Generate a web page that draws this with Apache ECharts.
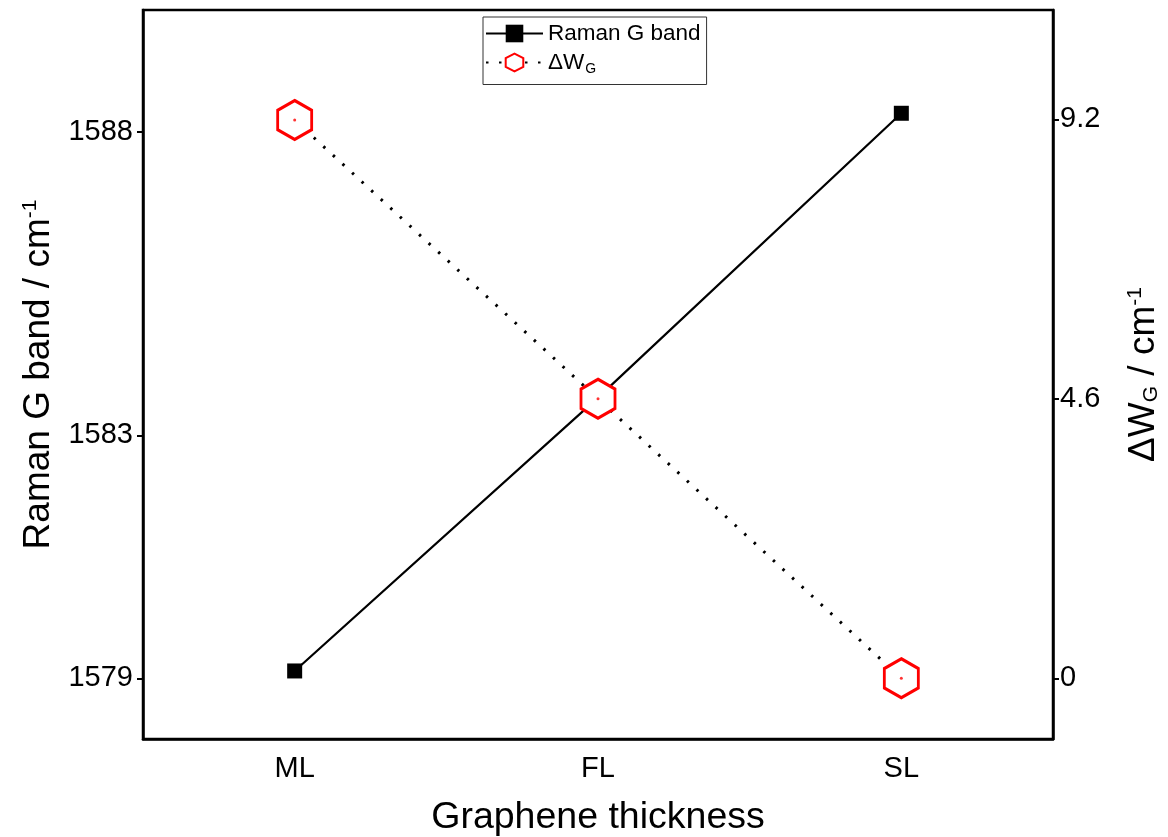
<!DOCTYPE html>
<html>
<head>
<meta charset="utf-8">
<script src="https://cdn.jsdelivr.net/npm/echarts@6/dist/echarts.min.js"></script>
<style>html,body{margin:0;padding:0;background:#fff;}#c{width:1168px;height:837px;}</style>
</head>
<body>
<div id="c"></div>
<script>
const categories = ['ML', 'FL', 'SL'];
const ramanG = [1579.12, 1583.62, 1588.3];
const deltaW = [9.19, 4.6, 0];
const leftTicks = [1579, 1583, 1588];
const rightTicks = [0, 4.6, 9.2];

const FONT = '"Liberation Sans", Arial, sans-serif';
const hexPath = 'path://M0,-1 L0.866,-0.5 L0.866,0.5 L0,1 L-0.866,0.5 L-0.866,-0.5 Z';

const chart = echarts.init(document.getElementById('c'));
chart.setOption({
  animation: false,
  backgroundColor: '#fff',
  textStyle: { fontFamily: FONT },
  grid: { left: 143, right: 115, top: 10, bottom: 98, outerBoundsMode: 'none', containLabel: false,
    show: true, borderColor: '#000', borderWidth: 2.5, backgroundColor: 'transparent' },
  legend: {
    left: 483, top: 17,
    orient: 'vertical',
    itemWidth: 57, itemHeight: 22, itemGap: 6,
    padding: [5, 6, 8, 2],
    borderColor: '#333', borderWidth: 1, borderRadius: 0,
    data: ['Raman G band', 'ΔW_G'],
    formatter: function (n) { return n === 'ΔW_G' ? '{a|ΔW}{s|G}' : '{a|' + n + '}'; },
    textStyle: {
      fontFamily: FONT, color: '#000',
      rich: {
        a: { fontSize: 22.5, fontFamily: FONT, color: '#000' },
        s: { fontSize: 14, fontFamily: FONT, color: '#000', verticalAlign: 'bottom', padding: [14, 0, 0, 1] }
      }
    }
  },
  xAxis: {
    type: 'category',
    data: categories,
    boundaryGap: true,
    name: 'Graphene thickness',
    nameLocation: 'middle',
    nameGap: 60,
    nameTextStyle: { fontSize: 37.5, color: '#000', fontFamily: FONT },
    axisLine: { onZero: false, lineStyle: { color: '#000', width: 2.5 } },
    axisTick: { alignWithLabel: true, length: 6, lineStyle: { color: '#000', width: 2 } },
    axisLabel: { fontSize: 29, color: '#000', margin: 15, fontFamily: FONT },
    splitLine: { show: false }
  },
  yAxis: [
    {
      type: 'value', min: 1578, max: 1590, position: 'left',
      name: '{a|Raman G band / cm}{s|-1}',
      nameLocation: 'middle', nameGap: 86, nameRotate: 90,
      nameTextStyle: {
        color: '#000', fontFamily: FONT,
        rich: {
          a: { fontSize: 37, fontFamily: FONT, color: '#000' },
          s: { fontSize: 21, fontFamily: FONT, color: '#000', verticalAlign: 'top', padding: [0, 0, 16, 0] }
        }
      },
      axisLine: { show: true, lineStyle: { color: '#000', width: 2.5 } },
      axisTick: { show: true, length: 6, customValues: leftTicks, lineStyle: { color: '#000', width: 2 } },
      axisLabel: { fontSize: 29, color: '#000', margin: 10, customValues: leftTicks, fontFamily: FONT,
        formatter: function (v) { return String(v); } },
      splitLine: { show: false }
    },
    {
      type: 'value', min: -1, max: 11, position: 'right',
      name: '{a|ΔW}{s|G}{a| / cm}{p|-1}',
      nameLocation: 'middle', nameGap: 72, nameRotate: 90,
      nameTextStyle: {
        color: '#000', fontFamily: FONT,
        rich: {
          a: { fontSize: 37, fontFamily: FONT, color: '#000' },
          s: { fontSize: 21, fontFamily: FONT, color: '#000', verticalAlign: 'bottom', padding: [16, 0, 0, 0] },
          p: { fontSize: 21, fontFamily: FONT, color: '#000', verticalAlign: 'top', padding: [0, 0, 16, 0] }
        }
      },
      axisLine: { show: true, lineStyle: { color: '#000', width: 2.5 } },
      axisTick: { show: true, length: 6, customValues: rightTicks, lineStyle: { color: '#000', width: 2 } },
      axisLabel: { fontSize: 29, color: '#000', margin: 7, customValues: rightTicks, fontFamily: FONT,
        formatter: function (v) { return String(v); } },
      splitLine: { show: false }
    }
  ],
  series: [
    {
      name: 'Raman G band', type: 'line', yAxisIndex: 0, data: ramanG,
      symbol: 'rect', symbolSize: 15, showSymbol: true,
      lineStyle: { color: '#000', width: 2.2 },
      itemStyle: { color: '#000', borderWidth: 0 },
      z: 2
    },
    {
      name: 'ΔW_G', type: 'line', yAxisIndex: 1, data: deltaW,
      symbol: hexPath, symbolSize: [34, 39], showSymbol: true,
      lineStyle: { color: '#000', width: 3, type: [2.5, 10.5] },
      itemStyle: { color: '#fff', borderColor: '#ff0000', borderWidth: 3 },
      z: 3
    },
    {
      name: 'dot', type: 'scatter', yAxisIndex: 1, data: deltaW,
      symbol: 'circle', symbolSize: 3, itemStyle: { color: '#ff0000' },
      z: 4, silent: true
    }
  ]
});
</script>
</body>
</html>
